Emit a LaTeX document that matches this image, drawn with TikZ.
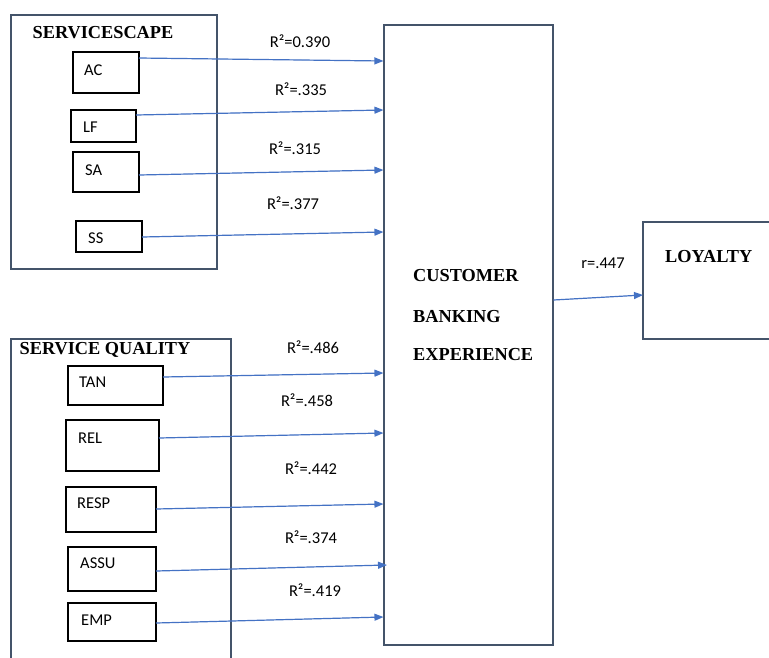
\documentclass[tikz,border=0pt]{standalone}
\usepackage{fontspec}
\setmainfont{Liberation Serif}
\newfontfamily\lblfont{Carlito}
\usetikzlibrary{arrows.meta}
\definecolor{arrowblue}{HTML}{4472C4}
\definecolor{frameslate}{HTML}{44546A}
\tikzset{
  frame/.style={draw=frameslate, line width=1.1pt},
  itembox/.style={draw=black, line width=1.1pt, inner sep=0pt},
  itemlbl/.style={anchor=west, inner sep=0pt, font=\lblfont\fontsize{16.5}{19}\selectfont},
  rlbl/.style={inner sep=0pt, font=\lblfont\fontsize{16.5}{19}\selectfont},
  heading/.style={inner sep=0pt, font=\bfseries\fontsize{18.3}{21}\selectfont},
  arr/.style={draw=arrowblue, line width=1.2pt, -{Triangle[length=9pt,width=7pt]}, fill=arrowblue},
}
\begin{document}
\begin{tikzpicture}[x=1pt,y=-1pt]
\useasboundingbox (0,0) rectangle (769,657);
\clip (0,0) rectangle (769,657);

% group frames
\draw[frame] (11,15) rectangle (217,269);
\draw[frame] (11,672) -- (11,339) -- (231,339) -- (231,672);
\node[heading] (scape) at (103,33) {SERVICESCAPE};
\node[heading] (squal) at (105,350) {SERVICE QUALITY};

% outcome boxes
\node[frame, minimum width=169pt, minimum height=620pt, inner sep=0pt] (cbe) at (468.5,335) {};
\node[heading, anchor=west] (cbe1) at (413,276) {CUSTOMER};
\node[heading, anchor=west] (cbe2) at (413,317) {BANKING};
\node[heading, anchor=west] (cbe3) at (413,355) {EXPERIENCE};
\draw[frame] (780,222) -- (643,222) -- (643,339) -- (780,339);
\coordinate (loy) at (643,295);
\node[heading, anchor=west] (loyt) at (665,257) {LOYALTY};

% servicescape items
\draw[itembox] (73,52) rectangle (139,93);   \node[itemlbl] (ac) at (84,70) {AC};
\draw[itembox] (71,110) rectangle (136,142); \node[itemlbl] (lf) at (83,127) {LF};
\draw[itembox] (73,152) rectangle (139,192); \node[itemlbl] (sa) at (85,170) {SA};
\draw[itembox] (76,221) rectangle (142,252); \node[itemlbl] (ss) at (88,238) {SS};

% service quality items
\draw[itembox] (68,366) rectangle (163,405); \node[itemlbl] (tan) at (79,382) {TAN};
\draw[itembox] (66,420) rectangle (159,471); \node[itemlbl] (rel) at (78,438) {REL};
\draw[itembox] (66,487) rectangle (156,532); \node[itemlbl] (resp) at (77,503) {RESP};
\draw[itembox] (68,547) rectangle (156,591); \node[itemlbl] (assu) at (80,563) {ASSU};
\draw[itembox] (68,603) rectangle (156,641); \node[itemlbl] (emp) at (81,620) {EMP};

% paths into the experience box
\draw[arr] (139,58)  -- (cbe.west |- 0,61);
\draw[arr] (136,115) -- (cbe.west |- 0,110);
\draw[arr] (139,175) -- (cbe.west |- 0,170);
\draw[arr] (142,237) -- (cbe.west |- 0,232);
\draw[arr] (163,377) -- (cbe.west |- 0,373);
\draw[arr] (159,438) -- (cbe.west |- 0,433);
\draw[arr] (156,509) -- (cbe.west |- 0,504);
\draw[arr] (156,571) -- (387,565);
\draw[arr] (156,623) -- (cbe.west |- 0,617);
\draw[arr] (cbe.east |- 0,300) -- (loy);

% coefficients
\node[rlbl] (r1) at (300,41)  {R²=0.390};
\node[rlbl] (r2) at (301,89)  {R²=.335};
\node[rlbl] (r3) at (295,148) {R²=.315};
\node[rlbl] (r4) at (293,203) {R²=.377};
\node[rlbl] (r5) at (313,347) {R²=.486};
\node[rlbl] (r6) at (307,400) {R²=.458};
\node[rlbl] (r7) at (311,468) {R²=.442};
\node[rlbl] (r8) at (311,537) {R²=.374};
\node[rlbl] (r9) at (315,590) {R²=.419};
\node[rlbl] (rl) at (603,263) {r=.447};
\end{tikzpicture}
\end{document}
